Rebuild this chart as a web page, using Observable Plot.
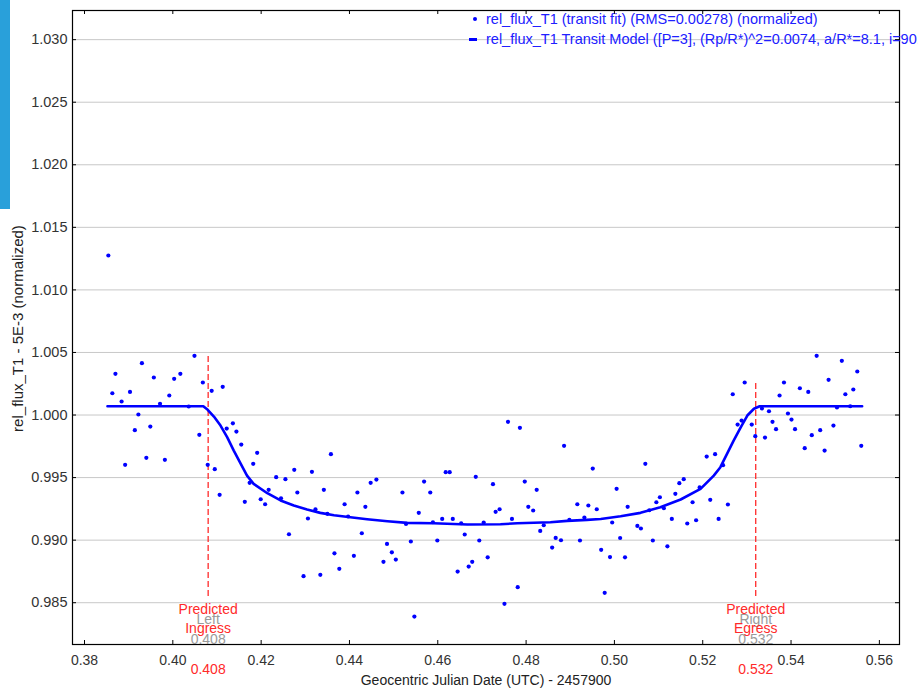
<!DOCTYPE html>
<html><head><meta charset="utf-8">
<script src="https://cdn.jsdelivr.net/npm/d3@7"></script>
<script src="https://cdn.jsdelivr.net/npm/@observablehq/plot@0.6"></script>
<style>
html,body{margin:0;padding:0;background:#fff;overflow:hidden;width:918px;height:691px;}
#wrap{position:relative;width:918px;height:691px;overflow:hidden;}
#bar{position:absolute;left:0;top:0;width:10px;height:209px;background:#29a0da;}
#legend{position:absolute;left:0;top:0;width:918px;height:60px;font-family:"Liberation Sans",Arial,sans-serif;font-size:14.5px;color:#2020ff;white-space:nowrap;pointer-events:none;}
#legend .txt{position:absolute;left:486px;line-height:16px;}
#legend .dot{position:absolute;left:473px;top:17px;width:4px;height:4px;border-radius:2px;background:#0000ff;}
#legend .dash{position:absolute;left:469px;top:38px;width:8px;height:3px;background:#0000ff;}
</style></head>
<body><div id="wrap"><div id="chart"></div><div id="bar"></div><div id="legend"></div></div>
<script>
// ---- data ----
const times = [
0.3854,0.3863,0.3870,0.3884,0.3892,0.3903,0.3914,0.3922,0.3930,0.3940,
0.3949,0.3957,0.3971,0.3982,0.3992,0.4003,0.4017,0.4036,0.4049,0.4060,
0.4068,0.4079,0.4088,0.4095,0.4106,0.4113,0.4122,0.4136,0.4144,0.4155,
0.4163,0.4174,0.4182,0.4191,0.4199,0.4209,0.4217,0.4234,0.4245,0.4255,
0.4263,0.4275,0.4282,0.4296,0.4306,0.4315,0.4323,0.4334,0.4342,0.4350,
0.4358,0.4366,0.4377,0.4389,0.4397,0.4410,0.4418,0.4428,0.4436,0.4448,
0.4461,0.4477,0.4485,0.4496,0.4505,0.4520,0.4528,0.4539,0.4547,0.4557,
0.4569,0.4583,0.4589,0.4599,0.4610,0.4618,0.4627,0.4634,0.4645,0.4653,
0.4661,0.4670,0.4678,0.4686,0.4694,0.4704,0.4713,0.4725,0.4731,0.4740,
0.4751,0.4759,0.4768,0.4781,0.4786,0.4797,0.4805,0.4816,0.4824,0.4832,
0.4840,0.4859,0.4867,0.4879,0.4886,0.4898,0.4916,0.4922,0.4932,0.4941,
0.4951,0.4960,0.4970,0.4978,0.4990,0.4995,0.5005,0.5013,0.5024,0.5030,
0.5052,0.5060,0.5070,0.5079,0.5087,0.5095,0.5103,0.5112,0.5120,0.5130,
0.5138,0.5147,0.5157,0.5165,0.5177,0.5185,0.5193,0.5209,0.5217,0.5228,
0.5236,0.5246,0.5257,0.5268,0.5279,0.5288,0.5295,0.5311,0.5319,0.5334,
0.5341,0.5350,0.5358,0.5366,0.5374,0.5384,0.5393,0.5401,0.5409,0.5420,
0.5431,0.5439,0.5447,0.5458,0.5466,0.5476,0.5485,0.5496,0.5504,0.5515,
0.5523,0.5534,0.5541,0.5550,0.5559];
const fluxes = [
1.01275,1.00174,1.00329,1.00108,0.99602,1.00185,0.99879,1.00004,1.00414,0.99658,
0.99908,1.00300,1.00090,0.99642,1.00156,1.00289,1.00329,1.00068,1.00473,0.99842,
1.00260,0.99602,1.00193,0.99567,0.99362,1.00225,0.99892,0.99934,0.99868,0.99764,
0.99306,0.99458,0.99610,0.99698,0.99327,0.99287,0.99402,0.99503,0.99335,0.99487,
0.99047,0.99562,0.99381,0.98712,0.99173,0.99546,0.99247,0.98723,0.99402,0.99210,
0.99687,0.98895,0.98771,0.99287,0.99189,0.98875,0.99381,0.99055,0.99266,0.99458,
0.99484,0.98827,0.98970,0.98903,0.98845,0.99381,0.99130,0.98989,0.98389,0.99218,
0.99468,0.99381,0.99143,0.98997,0.99170,0.99543,0.99543,0.99170,0.98749,0.99135,
0.99045,0.98789,0.98827,0.99506,0.98997,0.99141,0.98863,0.99447,0.99226,0.99247,
0.98491,0.99946,0.99170,0.98624,0.99898,0.99468,0.99266,0.99237,0.99402,0.99074,
0.99119,0.98941,0.99018,0.98999,0.99754,0.99162,0.99287,0.98997,0.99181,0.99277,
0.99572,0.99247,0.98923,0.98579,0.98865,0.99141,0.99410,0.99017,0.98863,0.99266,
0.99114,0.99093,0.99610,0.99239,0.98997,0.99303,0.99343,0.99255,0.98951,0.99170,
0.99370,0.99455,0.99487,0.99133,0.99303,0.99159,0.99421,0.99668,0.99322,0.99687,
0.99170,0.99599,0.99285,1.00166,0.99924,0.99956,1.00260,0.99924,0.99831,1.00052,
0.99820,1.00030,0.99946,0.99887,1.00156,1.00260,1.00012,0.99964,0.99887,1.00214,
0.99735,1.00185,0.99839,1.00473,0.99879,0.99716,1.00281,0.99916,1.00060,1.00433,
1.00166,1.00070,1.00204,1.00348,0.99754];
const modelTimes = [0.3852,0.4069,0.4079,0.4093,0.4108,0.4123,0.4138,0.4153,0.4168,0.4183,0.4214,0.4244,0.4274,0.4304,0.4334,0.4365,0.4402,0.4440,0.4486,0.4531,0.4590,0.4667,0.4742,0.4780,0.4855,0.4893,0.4938,0.4969,0.5014,0.5059,0.5104,0.5150,0.5195,0.5225,0.5240,0.5255,0.5270,0.5286,0.5301,0.5316,0.5329,0.5561];
const modelFluxes = [1.00070,1.00070,1.00042,0.99988,0.99916,0.99823,0.99716,0.99615,0.99516,0.99450,0.99375,0.99317,0.99277,0.99245,0.99218,0.99199,0.99183,0.99167,0.99151,0.99138,0.99135,0.99125,0.99127,0.99135,0.99143,0.99154,0.99162,0.99169,0.99191,0.99218,0.99263,0.99325,0.99410,0.99516,0.99583,0.99690,0.99796,0.99902,0.99996,1.00050,1.00070,1.00070];
const predTimes = [0.408, 0.532];
const predTop = [1.0048, 1.0027];
const predBottom = [0.9855, 0.9855];
const predSide = ["Left", "Right"];
const predEvent = ["Ingress", "Egress"];
const xTicks = [0.38,0.40,0.42,0.44,0.46,0.48,0.50,0.52,0.54,0.56];
const yTicks = [0.985,0.990,0.995,1.000,1.005,1.010,1.015,1.020,1.025,1.030];
const xDomain = [0.37728, 0.56456];
const yDomain = [0.98166, 1.03233];
const xLabel = "Geocentric Julian Date (UTC) - 2457900";
const yLabel = "rel_flux_T1 - 5E-3 (normalized)";
const legendLabels = [
  "rel_flux_T1 (transit fit) (RMS=0.00278) (normalized)",
  "rel_flux_T1 Transit Model ([P=3], (Rp/R*)^2=0.0074, a/R*=8.1, i=90.0)"
];

// ---- build ----
const pts = times.map((t, i) => ({t, f: fluxes[i]}));
const model = modelTimes.map((t, i) => ({t, f: modelFluxes[i]}));
const preds = predTimes.map((t, i) => ({t, top: predTop[i], bottom: predBottom[i], side: predSide[i], ev: predEvent[i], lab: t.toFixed(3)}));
const FONT = "'Liberation Sans', Arial, sans-serif";
const RED = "#ff2a2a", GRAY = "#9a9a9a";
const lbl = (dy, text, fill) => Plot.text(preds, {x: "t", frameAnchor: "bottom", lineAnchor: "middle", dy, text, fill, fontSize: 14});

const chart = Plot.plot({
  width: 918, height: 691,
  marginLeft: 72, marginTop: 10, marginRight: 19, marginBottom: 47,
  style: {fontFamily: FONT, fontSize: "14px", background: "transparent", overflow: "visible"},
  x: {domain: xDomain},
  y: {domain: yDomain},
  marks: [
    Plot.ruleY(yTicks, {stroke: "#c8c8c8", strokeWidth: 1}),
    Plot.ruleX(preds, {x: "t", y1: "bottom", y2: "top", stroke: RED, strokeWidth: 1.3, strokeDasharray: "6,3"}),
    Plot.dot(pts, {x: "t", y: "f", r: 2.1, fill: "#0000ff", stroke: "none"}),
    Plot.line(model, {x: "t", y: "f", stroke: "#0000ff", strokeWidth: 2.6}),
    Plot.frame({stroke: "#000", strokeWidth: 1.2}),
    Plot.ruleX(xTicks, {x: d => d, y1: yDomain[0], y2: yDomain[0], insetTop: -4, stroke: "#000"}),
    Plot.ruleX(xTicks, {x: d => d, y1: yDomain[1], y2: yDomain[1], insetBottom: -4, stroke: "#000"}),
    Plot.ruleY(yTicks, {y: d => d, x1: xDomain[0], x2: xDomain[0], insetRight: -4, stroke: "#000"}),
    Plot.ruleY(yTicks, {y: d => d, x1: xDomain[1], x2: xDomain[1], insetLeft: -4, stroke: "#000"}),
    Plot.axisX(xTicks, {tickSize: 0, tickPadding: 11, tickFormat: d3.format(".2f"), fill: "#333", fontSize: 14, label: null}),
    Plot.axisY(yTicks, {tickSize: 0, tickPadding: 5, tickFormat: d3.format(".3f"), fill: "#333", fontSize: 14.5, label: null}),
    Plot.text([xLabel], {frameAnchor: "bottom", lineAnchor: "middle", dy: 36, text: d => d, fill: "#222", fontSize: 14}),
    Plot.text([yLabel], {frameAnchor: "left", textAnchor: "middle", lineAnchor: "middle", dx: -54, dy: 1, rotate: -90, text: d => d, fill: "#222", fontSize: 15}),
    lbl(-25, "side", GRAY),
    lbl(-5, "lab", GRAY),
    lbl(-35, () => "Predicted", RED),
    lbl(-16, "ev", RED),
    lbl(25, "lab", RED)
  ]
});
document.getElementById("chart").appendChild(chart);

const leg = document.getElementById("legend");
legendLabels.forEach((s, i) => {
  const m = document.createElement("div");
  m.className = i === 0 ? "dot" : "dash";
  leg.appendChild(m);
  const t = document.createElement("div");
  t.className = "txt";
  t.style.top = (11 + i * 20) + "px";
  t.textContent = s;
  leg.appendChild(t);
});
</script>
</body></html>
